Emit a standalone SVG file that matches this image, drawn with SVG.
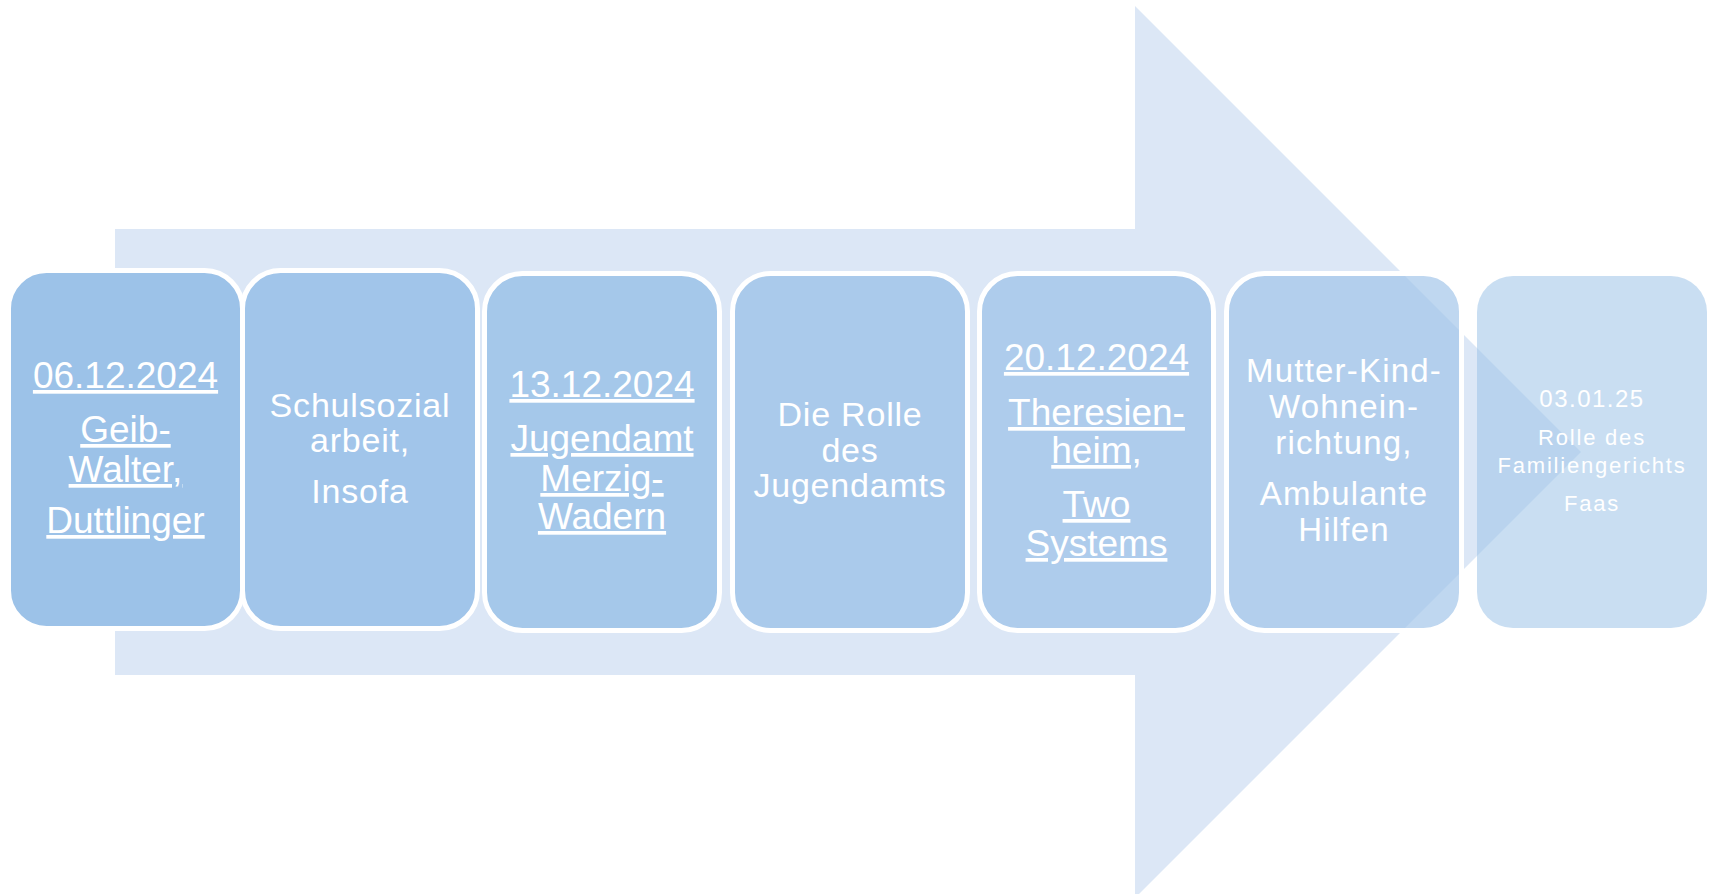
<svg xmlns="http://www.w3.org/2000/svg" width="1710" height="894" viewBox="0 0 1710 894">
<style>
.node{fill:#9CC2E8;stroke:#FFFFFF;stroke-width:5}
.t{font-family:"Liberation Sans",Arial,sans-serif;fill:#FFFFFF;text-anchor:middle}
.u{text-decoration:underline;text-decoration-thickness:1.6px;text-decoration-skip-ink:none;text-underline-offset:4px}
.big{font-size:37px}
.mid{font-size:34px;letter-spacing:0.8px}
.m6{font-size:33px;letter-spacing:1.2px}
.s7{font-size:22px;letter-spacing:1.8px}
</style>
<rect width="1710" height="894" fill="#FFFFFF"/>
<g id="arrow">
<polygon points="115,229 1135,229 1135,6 1581,452 1135,898 1135,675 115,675" fill="#DCE7F6"/>
</g>
<g id="connectors"></g>
<g id="node1">
<rect class="node" x="8.5" y="270.5" width="234" height="358" rx="38" ry="38" fill-opacity="1"/>
<text class="t big u" x="125.5" y="388">06.12.2024</text>
<text class="t big u" x="125.5" y="442">Geib-</text>
<text class="t big u" x="125.5" y="482">Walter,</text>
<text class="t big u" x="125.5" y="533">Duttlinger</text>
</g>
<g id="node2">
<rect class="node" x="242.5" y="270.5" width="235" height="358" rx="38" ry="38" fill-opacity="0.93"/>
<text class="t mid" x="360" y="417">Schulsozial</text>
<text class="t mid" x="360" y="452">arbeit,</text>
<text class="t mid" x="360" y="503">Insofa</text>
</g>
<g id="node3">
<rect class="node" x="484.5" y="273.5" width="235" height="357" rx="38" ry="38" fill-opacity="0.86"/>
<text class="t big u" x="602" y="397">13.12.2024</text>
<text class="t big u" x="602" y="451">Jugendamt</text>
<text class="t big u" x="602" y="491">Merzig-</text>
<text class="t big u" x="602" y="529">Wadern</text>
</g>
<g id="node4">
<rect class="node" x="732.5" y="273.5" width="235" height="357" rx="38" ry="38" fill-opacity="0.79"/>
<text class="t mid" x="850" y="426">Die Rolle</text>
<text class="t mid" x="850" y="462">des</text>
<text class="t mid" x="850" y="497">Jugendamts</text>
</g>
<g id="node5">
<rect class="node" x="979.5" y="273.5" width="234" height="357" rx="38" ry="38" fill-opacity="0.72"/>
<text class="t big u" x="1096.5" y="370">20.12.2024</text>
<text class="t big u" x="1096.5" y="425">Theresien-</text>
<text class="t big u" x="1096.5" y="463">heim,</text>
<text class="t big u" x="1096.5" y="517">Two</text>
<text class="t big u" x="1096.5" y="556">Systems</text>
</g>
<g id="node6">
<rect class="node" x="1226.5" y="273.5" width="235" height="357" rx="38" ry="38" fill-opacity="0.65"/>
<text class="t m6" x="1344" y="382">Mutter-Kind-</text>
<text class="t m6" x="1344" y="418">Wohnein-</text>
<text class="t m6" x="1344" y="454">richtung,</text>
<text class="t m6" x="1344" y="505">Ambulante</text>
<text class="t m6" x="1344" y="541">Hilfen</text>
</g>
<g id="node7">
<rect x="1477" y="276" width="230" height="352" rx="36" ry="36" fill="#9CC2E8" fill-opacity="0.55"/>
<text class="t" x="1592" y="407" style="font-size:24px;letter-spacing:1.5px">03.01.25</text>
<text class="t s7" x="1592" y="445">Rolle des</text>
<text class="t s7" x="1592" y="473">Familiengerichts</text>
<text class="t s7" x="1592" y="511">Faas</text>
</g>
</svg>
